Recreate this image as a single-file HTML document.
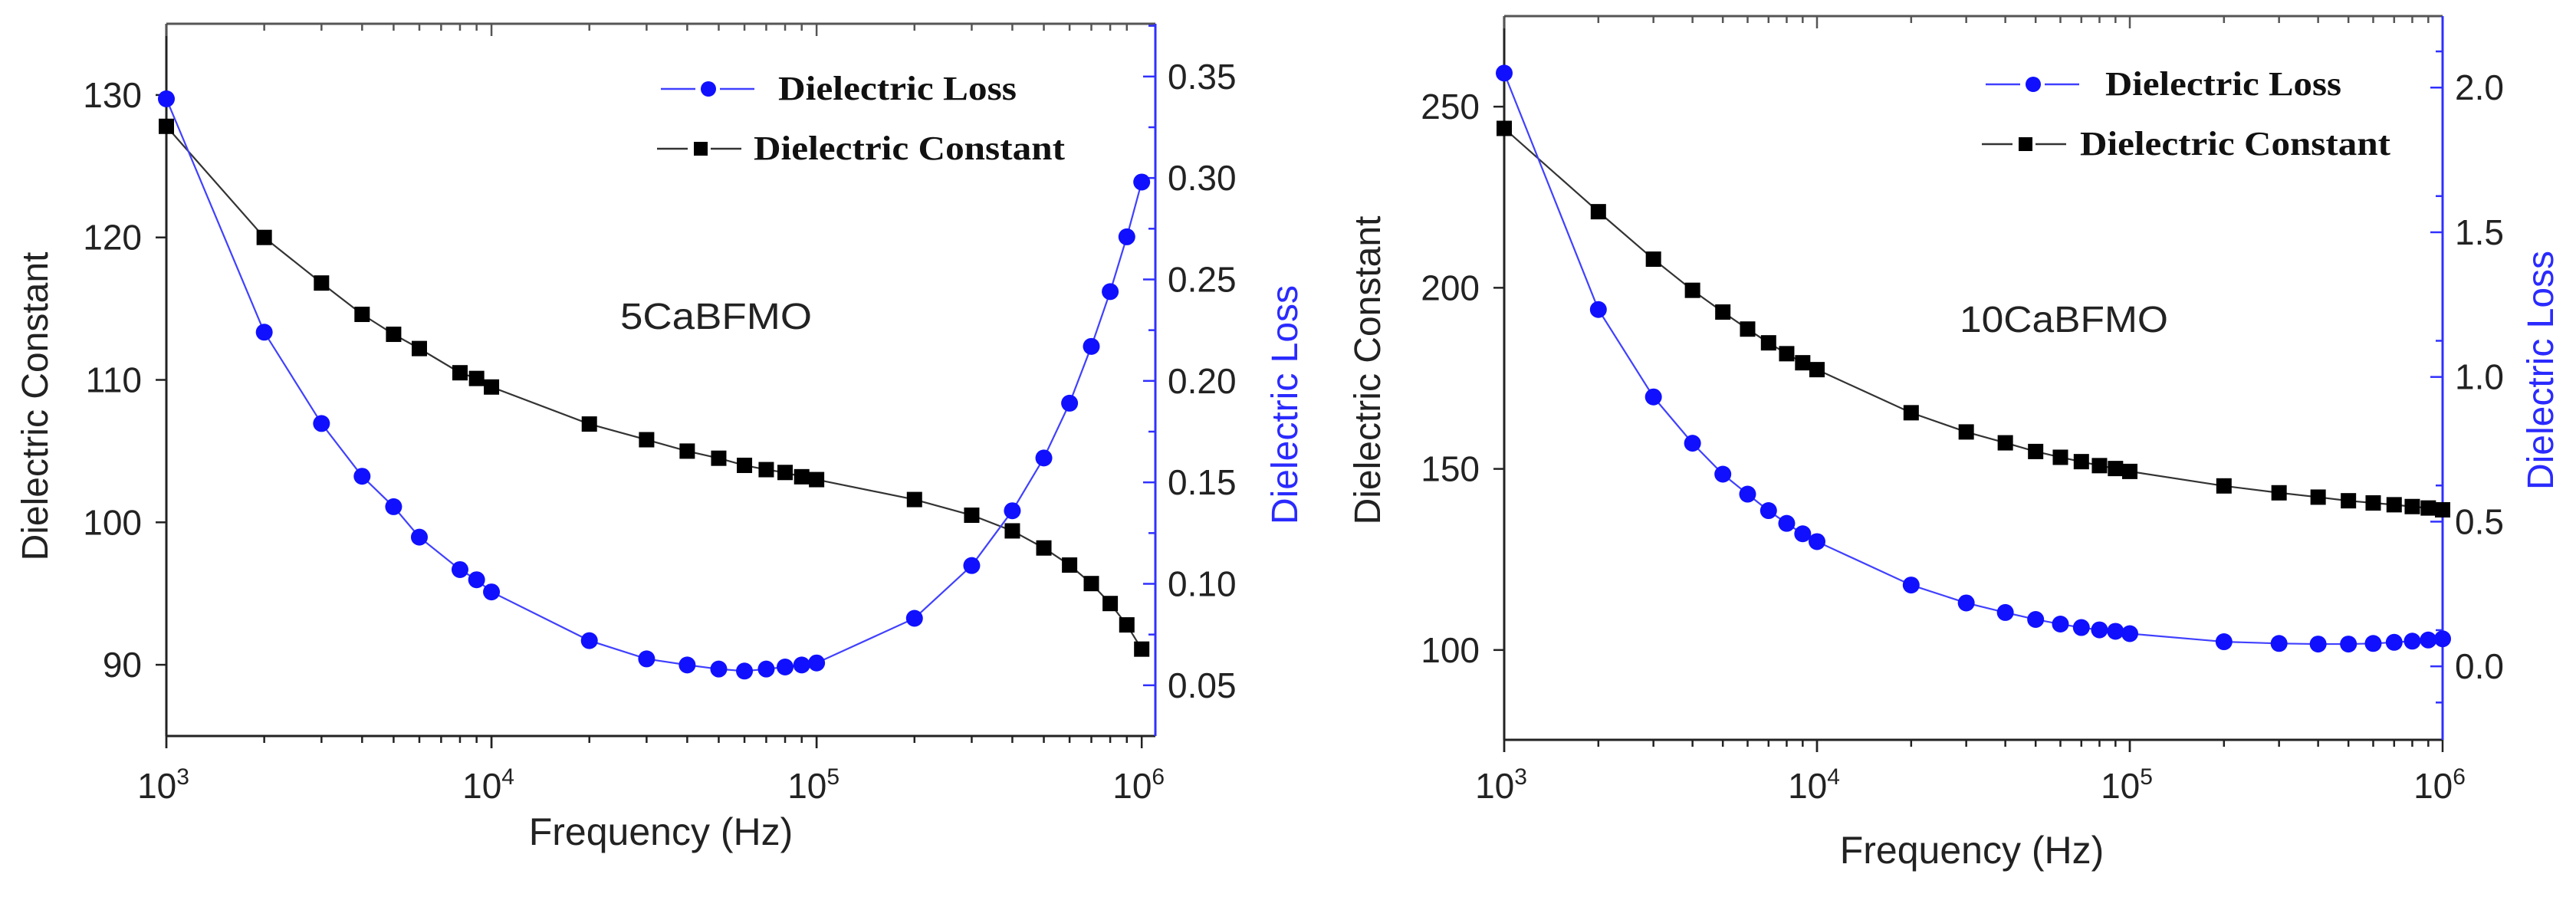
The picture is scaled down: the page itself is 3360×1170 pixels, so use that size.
<!DOCTYPE html>
<html><head><meta charset="utf-8"><style>
html,body{margin:0;padding:0;background:#fff;width:3360px;height:1170px;overflow:hidden}
svg{display:block}
text{font-family:"Liberation Sans",sans-serif}
.lg{font-family:"Liberation Serif",serif;font-weight:bold;font-size:44px}
</style></head><body>
<svg id="chart" width="3360" height="1170" xmlns="http://www.w3.org/2000/svg"></svg>
<script>
const freqA = [1e3,2e3,3e3,4e3,5e3,6e3,8e3,9e3,1e4,2e4,3e4,4e4,5e4,6e4,7e4,8e4,9e4,1e5,2e5,3e5,4e5,5e5,6e5,7e5,8e5,9e5,1e6];
const constA = [127.8,120,116.8,114.6,113.2,112.2,110.5,110.1,109.5,106.9,105.8,105.0,104.5,104.0,103.7,103.5,103.2,103.0,101.6,100.5,99.4,98.2,97.0,95.7,94.3,92.8,91.1];
const lossA = [0.339,0.224,0.179,0.153,0.138,0.123,0.107,0.102,0.096,0.072,0.063,0.060,0.058,0.057,0.058,0.059,0.060,0.061,0.083,0.109,0.136,0.162,0.189,0.217,0.244,0.271,0.298];
const freqB = [1e3,2e3,3e3,4e3,5e3,6e3,7e3,8e3,9e3,1e4,2e4,3e4,4e4,5e4,6e4,7e4,8e4,9e4,1e5,2e5,3e5,4e5,5e5,6e5,7e5,8e5,9e5,1e6];
const constB = [244.0,221.0,207.9,199.3,193.3,188.6,184.8,181.8,179.3,177.4,165.5,160.2,157.2,154.8,153.2,152.0,150.9,150.1,149.3,145.3,143.4,142.2,141.2,140.6,140.1,139.6,139.2,138.7];
const lossB = [2.05,1.233,0.931,0.771,0.664,0.595,0.538,0.494,0.458,0.431,0.281,0.219,0.186,0.162,0.146,0.134,0.126,0.121,0.113,0.085,0.079,0.077,0.077,0.079,0.083,0.087,0.091,0.095];
const leftTicksA = [90,100,110,120,130];
const rightTicksA = [0.05,0.10,0.15,0.20,0.25,0.30,0.35];
const leftTicksB = [100,150,200,250];
const rightTicksB = [0.0,0.5,1.0,1.5,2.0];
const xDecades = [3,4,5,6];

const svg=document.getElementById('chart');
const NS='http://www.w3.org/2000/svg';
function mk(tag,attrs,parent,txt){const e=document.createElementNS(NS,tag);for(const k in attrs)e.setAttribute(k,attrs[k]);if(txt!==undefined)e.textContent=txt;(parent||svg).appendChild(e);return e;}

function panel(cfg){
  const g=mk('g',{});
  
  
  const {L,R,T,B}=cfg;
  const xs=v=>L+(Math.log10(v)-3)/(cfg.xmax-3)*(R-L);
  const yl=v=>B-(v-cfg.ylmin)/(cfg.ylmax-cfg.ylmin)*(B-T);
  const yr=v=>B-(v-cfg.yrmin)/(cfg.yrmax-cfg.yrmin)*(B-T);
  mk('line',{x1:L,y1:T,x2:R,y2:T,stroke:'#555','stroke-width':3},g);
  mk('line',{x1:L,y1:B,x2:R,y2:B,stroke:'#222','stroke-width':3},g);
  const la=mk('line',{x1:L,y1:T,x2:L,y2:B,stroke:'#222','stroke-width':3},g);
  
  const ra=mk('line',{x1:R,y1:T,x2:R,y2:B,stroke:'#3030ff','stroke-width':3},g);
  
  for(let d=3;d<6;d++){for(let m=1;m<10;m++){const v=m*Math.pow(10,d);const x=xs(v);const len=m===1?16:9;
    mk('line',{x1:x,y1:B,x2:x,y2:B+len,stroke:'#222','stroke-width':2.5},g);
    mk('line',{x1:x,y1:T,x2:x,y2:T+len,stroke:'#555','stroke-width':2.5},g);}}
  xDecades.forEach(d=>{const x=xs(Math.pow(10,d));
    mk('line',{x1:x,y1:B,x2:x,y2:B+16,stroke:'#222','stroke-width':2.5},g);
    const t=mk('text',{x:x-4,y:cfg.xly,'text-anchor':'middle','font-size':46,fill:'#222'},g);
    
    mk('tspan',{},t,'10');mk('tspan',{dy:-18,'font-size':30},t,String(d));});
  cfg.lt.forEach(v=>{const y=yl(v);
    mk('line',{x1:L-14,y1:y,x2:L,y2:y,stroke:'#222','stroke-width':2.5},g);
    const t=mk('text',{x:L-32,y:y+16,'text-anchor':'end','font-size':46,fill:'#222'},g,String(v));
    });
  cfg.rt.forEach((v,i)=>{const y=yr(v);
    mk('line',{x1:R-16,y1:y,x2:R,y2:y,stroke:'#3030ff','stroke-width':2.5},g);
    const ym=yr(v+cfg.rstep/2);if(ym>T)mk('line',{x1:R-9,y1:ym,x2:R,y2:ym,stroke:'#3030ff','stroke-width':2.5},g);
    const ym2=yr(v-cfg.rstep/2); if(i===0&&ym2<B)mk('line',{x1:R-9,y1:ym2,x2:R,y2:ym2,stroke:'#3030ff','stroke-width':2.5},g);
    const t=mk('text',{x:R+16,y:y+16,'font-size':46,fill:'#222'},g,cfg.rfmt(v));
    });
  const pc=cfg.f.map((f,i)=>xs(f)+','+yl(cfg.c[i])).join(' ');
  const lc=mk('polyline',{points:pc,fill:'none',stroke:'#333','stroke-width':2.2},g);
  
  const pl=cfg.f.map((f,i)=>xs(f)+','+yr(cfg.l[i])).join(' ');
  const ll=mk('polyline',{points:pl,fill:'none',stroke:'#4040ff','stroke-width':2.2},g);
  
  cfg.f.forEach((f,i)=>{const x=xs(f),y=yl(cfg.c[i]);
    const r=mk('rect',{x:x-10,y:y-10,width:20,height:20,fill:'#000'},g);
    });
  cfg.f.forEach((f,i)=>{const x=xs(f),y=yr(cfg.l[i]);
    const c=mk('circle',{cx:x,cy:y,r:11,fill:'#1010ff'},g);
    });
  const lg=mk('g',{},g);
  const [lx,ly]=cfg.leg;
  mk('line',{x1:lx,y1:ly,x2:lx+122,y2:ly,stroke:'#4040ff','stroke-width':2.5,'stroke-dasharray':'45 32'},lg);
  mk('circle',{cx:lx+62,cy:ly,r:10,fill:'#1010ff'},lg);
  mk('text',{x:cfg.legTx[0],y:ly+14,class:'lg',fill:'#111',textLength:cfg.legW[0],lengthAdjust:'spacingAndGlyphs'},lg,'Dielectric Loss');
  const ly2=ly+78, lx2=lx-5;
  mk('line',{x1:lx2,y1:ly2,x2:lx2+112,y2:ly2,stroke:'#333','stroke-width':2.5,'stroke-dasharray':'40 30'},lg);
  mk('rect',{x:lx2+48,y:ly2-9,width:18,height:18,fill:'#000'},lg);
  mk('text',{x:cfg.legTx[1],y:ly2+14,class:'lg',fill:'#111',textLength:cfg.legW[1],lengthAdjust:'spacingAndGlyphs'},lg,'Dielectric Constant');
  const s=mk('text',{x:cfg.lab[0],y:cfg.lab[1],'font-size':48,fill:'#222',textLength:cfg.lab[2],lengthAdjust:'spacingAndGlyphs'},g,cfg.label);
  
  const xt=mk('text',{x:cfg.xt[0],y:cfg.xt[1],'text-anchor':'middle','font-size':50,fill:'#222'},g,'Frequency (Hz)');
  
  const yt=mk('text',{x:0,y:0,'text-anchor':'middle','font-size':48,fill:'#222',transform:`translate(${cfg.ylt[0]},${cfg.ylt[1]}) rotate(-90)`},g,'Dielectric Constant');
  
  const yt2=mk('text',{x:0,y:0,'text-anchor':'middle','font-size':48,fill:'#2a2aff',transform:`translate(${cfg.yrt[0]},${cfg.yrt[1]}) rotate(-90)`},g,'Dielectric Loss');
  
}
panel({name:'panel-5cabfmo',L:217,R:1507,T:31,B:960,xmax:6.042,ylmin:85,ylmax:135,yrmin:0.025,yrmax:0.376,
  lt:leftTicksA,rt:rightTicksA,rstep:0.05,rfmt:v=>v.toFixed(2),f:freqA,c:constA,l:lossA,
  leg:[862,116],legTx:[1015,983],legW:[311,406],lab:[809,429,250],label:'5CaBFMO',xt:[862,1102],ylt:[62,530],yrt:[1692,528],xly:1041});
panel({name:'panel-10cabfmo',L:1962,R:3186,T:21,B:965,xmax:6.0,ylmin:75.2,ylmax:275,yrmin:-0.254,yrmax:2.247,
  lt:leftTicksB,rt:rightTicksB,rstep:0.25,rfmt:v=>v.toFixed(1),f:freqB,c:constB,l:lossB,
  leg:[2590,110],legTx:[2746,2713],legW:[308,405],lab:[2556,433,272],label:'10CaBFMO',xt:[2572,1126],ylt:[1800,483],yrt:[3330,483],xly:1041});
</script>
</body></html>
